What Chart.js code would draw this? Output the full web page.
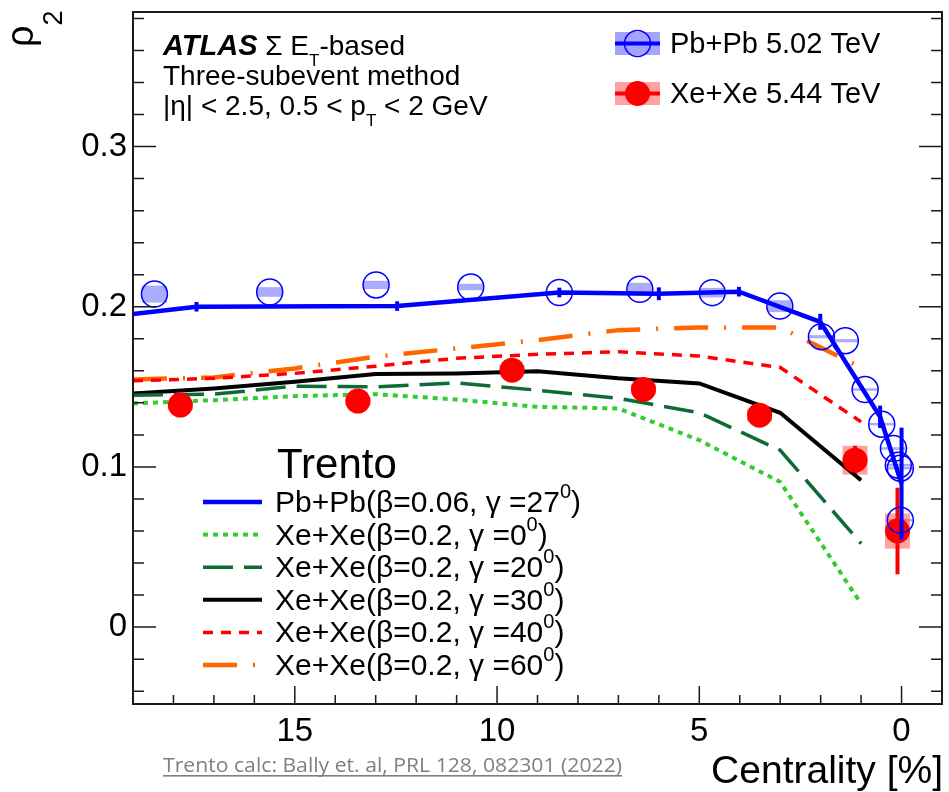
<!DOCTYPE html>
<html>
<head>
<meta charset="utf-8">
<title>rho2 vs centrality</title>
<script src="https://cdn.jsdelivr.net/npm/chart.js@4.4.1/dist/chart.umd.min.js"></script>
<style>
  html, body { margin: 0; padding: 0; background: #fff; overflow: hidden; }
  canvas { display: block; }
</style>
</head>
<body>
<canvas id="rhoChart" width="949" height="792"></canvas>
<script>
const FONT = "'Liberation Sans', Arial, Helvetica, sans-serif";

// ATLAS Pb+Pb 5.02 TeV (open circles), syst half-widths
const pbCent = [18.47, 15.62, 12.99, 10.65, 8.46, 6.47, 4.68, 3.01, 1.98, 1.39, 0.90, 0.49, 0.20, 0.08, 0.03, 0.03];
const pbRho  = [0.2079, 0.2092, 0.2136, 0.2123, 0.2089, 0.2109, 0.2088, 0.2004, 0.1813, 0.1788, 0.1483, 0.1267, 0.1115, 0.1011, 0.0992, 0.0667];
const pbSys  = [0.0053, 0.0030, 0.0026, 0.0020, 0.0010, 0.0040, 0.0030, 0.0037, 0.0010, 0.0010, 0.0008, 0.0008, 0.0008, 0.0008, 0.0008, 0.0008];

// ATLAS Xe+Xe 5.44 TeV (filled circles)
const xeCent = [17.83, 13.44, 9.63, 6.38, 3.51, 1.15, 0.10];
const xeRho  = [0.1386, 0.1411, 0.1604, 0.1484, 0.1323, 0.1042, 0.0600];
const xeStat = [0.002, 0.002, 0.002, 0.002, 0.003, 0.009, 0.027];
const xeSys  = [0.003, 0.003, 0.003, 0.003, 0.004, 0.009, 0.011];

// Trento Pb+Pb (beta=0.06, gamma=27)
const trPbCent = [19, 17.43, 12.47, 8.46, 6.0, 4.02, 2.01, 0.53, 0.0];
const trPbRho  = [0.1955, 0.2000, 0.2004, 0.2089, 0.2081, 0.2094, 0.1906, 0.1313, 0.0895];
const trPbErr  = [0, 0.003, 0.003, 0.003, 0.004, 0.003, 0.005, 0.007, 0.035];

// Trento Xe+Xe (beta=0.2) for several gamma values
const trXeCent  = [19, 17, 15, 13, 11, 9, 7, 5, 3, 1];
const xeGamma0  = [0.1396, 0.1417, 0.1442, 0.1454, 0.1421, 0.1375, 0.1365, 0.1167, 0.0906, 0.0146];
const xeGamma20 = [0.1448, 0.1454, 0.1504, 0.1500, 0.1525, 0.1479, 0.1428, 0.1338, 0.1104, 0.0521];
const xeGamma30 = [0.1459, 0.1490, 0.1531, 0.1580, 0.1584, 0.1598, 0.1553, 0.1521, 0.1338, 0.0917];
const xeGamma40 = [0.1538, 0.1553, 0.1584, 0.1629, 0.1678, 0.1703, 0.1719, 0.1692, 0.1621, 0.1281];
const xeGamma60 = [0.1546, 0.1559, 0.1615, 0.1688, 0.1740, 0.1792, 0.1854, 0.1871, 0.1871, 0.1621];

const xTicks = [0, 5, 10, 15];
const yTicks = [0, 0.1, 0.2, 0.3];

const trentoLabels = [
  ['Pb+Pb(β=0.06, γ =27', ')'],
  ['Xe+Xe(β=0.2, γ =0', ')'],
  ['Xe+Xe(β=0.2, γ =20', ')'],
  ['Xe+Xe(β=0.2, γ =30', ')'],
  ['Xe+Xe(β=0.2, γ =40', ')'],
  ['Xe+Xe(β=0.2, γ =60', ')']
];

function pts(xs, ys) {
  return xs.map((x, i) => ({ x: x, y: ys[i] }));
}

function curve(label, ys, color, width, dash) {
  return {
    label: label,
    data: pts(trXeCent, ys),
    borderColor: color,
    borderWidth: width,
    borderDash: dash,
    pointRadius: 0,
    tension: 0,
    fill: false
  };
}

// draws a row of text pieces: [text, font, baseline shift]
function drawRich(ctx, x, y, runs) {
  let cx = x;
  runs.forEach(r => {
    ctx.font = r[1];
    ctx.fillText(r[0], cx, y + (r[2] || 0));
    cx += ctx.measureText(r[0]).width;
  });
  return cx;
}

// light bands for systematics, red stat bars
const errorBoxes = {
  id: 'errorBoxes',
  beforeDatasetsDraw(chart) {
    const { ctx, chartArea: a, scales: { x, y } } = chart;
    ctx.save();
    ctx.beginPath();
    ctx.rect(a.left, a.top, a.right - a.left, a.bottom - a.top);
    ctx.clip();
    ctx.fillStyle = 'rgba(90, 90, 255, 0.5)';
    pbCent.forEach((c, i) => {
      const px = x.getPixelForValue(c);
      const t = y.getPixelForValue(pbRho[i] + pbSys[i]);
      const b = y.getPixelForValue(pbRho[i] - pbSys[i]);
      ctx.fillRect(px - 12.5, t, 25, b - t);
    });
    ctx.fillStyle = 'rgba(255, 70, 70, 0.5)';
    xeCent.forEach((c, i) => {
      const px = x.getPixelForValue(c);
      const t = y.getPixelForValue(xeRho[i] + xeSys[i]);
      const b = y.getPixelForValue(xeRho[i] - xeSys[i]);
      ctx.fillRect(px - 12.5, t, 25, b - t);
    });
    ctx.strokeStyle = '#ff0000';
    ctx.lineWidth = 4;
    xeCent.forEach((c, i) => {
      const px = x.getPixelForValue(c);
      ctx.beginPath();
      ctx.moveTo(px, y.getPixelForValue(xeRho[i] + xeStat[i]));
      ctx.lineTo(px, y.getPixelForValue(xeRho[i] - xeStat[i]));
      ctx.stroke();
    });
    ctx.restore();
  },
  afterDatasetsDraw(chart) {
    // uncertainty ticks on the Trento Pb+Pb curve
    const { ctx, scales: { x, y } } = chart;
    ctx.save();
    ctx.strokeStyle = '#0000ff';
    ctx.lineWidth = 4;
    trPbCent.forEach((c, i) => {
      if (!trPbErr[i]) return;
      const px = x.getPixelForValue(c);
      ctx.beginPath();
      ctx.moveTo(px, y.getPixelForValue(trPbRho[i] + trPbErr[i]));
      ctx.lineTo(px, y.getPixelForValue(trPbRho[i] - trPbErr[i]));
      ctx.stroke();
    });
    ctx.restore();
  }
};

// frame with inward ticks, titles, legends, labels
const decorations = {
  id: 'decorations',
  afterDraw(chart) {
    const { ctx, chartArea: a, scales: { x, y } } = chart;
    const ds = chart.data.datasets;
    ctx.save();

    ctx.strokeStyle = '#1a1a1a';
    ctx.lineWidth = 2;
    ctx.strokeRect(a.left, a.top, a.right - a.left, a.bottom - a.top);

    ctx.lineWidth = 1.5;
    ctx.beginPath();
    for (let v = -1; v <= 19; v++) {
      const px = x.getPixelForValue(v);
      const len = v % 5 === 0 ? 18 : 9;
      ctx.moveTo(px, a.bottom);
      ctx.lineTo(px, a.bottom - len);
    }
    for (let k = -2; k <= 19; k++) {
      const py = y.getPixelForValue(k * 0.02);
      const len = k % 5 === 0 ? 23 : 11;
      ctx.moveTo(a.left, py);
      ctx.lineTo(a.left + len, py);
      ctx.moveTo(a.right, py);
      ctx.lineTo(a.right - len, py);
    }
    ctx.stroke();

    ctx.fillStyle = '#000';
    ctx.textAlign = 'left';
    ctx.textBaseline = 'alphabetic';

    // axis titles
    ctx.font = '39px ' + FONT;
    ctx.textAlign = 'right';
    ctx.fillText('Centrality [%]', 943, 783);
    ctx.textAlign = 'left';
    ctx.save();
    ctx.translate(33, 47);
    ctx.rotate(-Math.PI / 2);
    drawRich(ctx, 0, 0, [['ρ', '38px ' + FONT], ['2', '27px ' + FONT, 29]]);
    ctx.restore();

    // experiment labels
    const f28 = '28px ' + FONT;
    drawRich(ctx, 163, 55, [
      ['ATLAS', 'italic bold 29px ' + FONT],
      [' Σ E', f28],
      ['T', '17px ' + FONT, 11],
      ['-based', f28]
    ]);
    drawRich(ctx, 163, 85, [['Three-subevent method', f28]]);
    drawRich(ctx, 163, 115, [
      ['|η| < 2.5, 0.5 < p', f28],
      ['T', '17px ' + FONT, 11],
      [' < 2 GeV', f28]
    ]);

    // data legend
    const rows = [
      { y: 43.5, fill: 'rgba(90, 90, 255, 0.55)', line: '#0000ff', open: true, text: 'Pb+Pb 5.02 TeV' },
      { y: 93.5, fill: 'rgba(255, 70, 70, 0.5)', line: '#ff0000', open: false, text: 'Xe+Xe 5.44 TeV' }
    ];
    rows.forEach(r => {
      ctx.fillStyle = r.fill;
      ctx.fillRect(615, r.y - 11.5, 45, 23);
      ctx.strokeStyle = r.line;
      ctx.lineWidth = 4;
      ctx.beginPath();
      ctx.moveTo(615, r.y);
      ctx.lineTo(660, r.y);
      ctx.stroke();
      ctx.beginPath();
      ctx.arc(637.5, r.y, r.open ? 13 : 12.5, 0, Math.PI * 2);
      if (r.open) {
        ctx.lineWidth = 1.5;
        ctx.stroke();
      } else {
        ctx.fillStyle = r.line;
        ctx.fill();
      }
      ctx.fillStyle = '#000';
      ctx.font = '29px ' + FONT;
      ctx.fillText(r.text, 670, r.y + 9.5);
    });

    // model legend
    ctx.font = '42px ' + FONT;
    ctx.fillText('Trento', 277, 478);
    const curves = ds.slice(2);
    curves.forEach((c, i) => {
      const ly = 502 + i * 32.6;
      ctx.strokeStyle = c.borderColor;
      ctx.lineWidth = c.borderWidth;
      ctx.setLineDash(c.borderDash || []);
      ctx.beginPath();
      ctx.moveTo(203, ly);
      ctx.lineTo(262, ly);
      ctx.stroke();
      ctx.setLineDash([]);
      ctx.fillStyle = '#000';
      const lab = trentoLabels[i];
      drawRich(ctx, 275, ly + 10, [
        [lab[0], '30px ' + FONT],
        ['0', '20px ' + FONT, -14],
        [lab[1], '30px ' + FONT]
      ]);
    });

    // reference note, underlined
    const note = 'Trento calc: Bally et. al, PRL 128, 082301 (2022)';
    ctx.font = "20px 'Open Sans', " + FONT;
    const w = ctx.measureText(note).width;
    const sx = 459 / w;
    ctx.save();
    ctx.translate(163, 772);
    ctx.scale(sx, 1);
    ctx.fillStyle = '#808080';
    ctx.fillText(note, 0, 0);
    ctx.restore();
    ctx.fillStyle = '#808080';
    ctx.fillRect(163, 775, 459, 1.6);

    ctx.restore();
  }
};

new Chart(document.getElementById('rhoChart'), {
  type: 'line',
  data: {
    datasets: [
      {
        label: 'Pb+Pb 5.02 TeV',
        data: pts(pbCent, pbRho),
        showLine: false,
        pointRadius: 13,
        pointBackgroundColor: 'rgba(0, 0, 0, 0)',
        pointBorderColor: '#0000ff',
        pointBorderWidth: 1.5
      },
      {
        label: 'Xe+Xe 5.44 TeV',
        data: pts(xeCent, xeRho),
        showLine: false,
        pointRadius: 12.5,
        pointBackgroundColor: '#ff0000',
        pointBorderColor: '#ff0000',
        pointBorderWidth: 0
      },
      {
        label: 'Trento Pb+Pb',
        data: pts(trPbCent, trPbRho),
        borderColor: '#0000ff',
        borderWidth: 4.5,
        pointRadius: 0,
        tension: 0,
        fill: false
      },
      curve('Trento Xe+Xe gamma=0', xeGamma0, '#33cc33', 4, [5, 5]),
      curve('Trento Xe+Xe gamma=20', xeGamma20, '#0f6b35', 3.5, [30, 11]),
      curve('Trento Xe+Xe gamma=30', xeGamma30, '#000000', 4, []),
      curve('Trento Xe+Xe gamma=40', xeGamma40, '#ff0000', 3.5, [10, 8]),
      curve('Trento Xe+Xe gamma=60', xeGamma60, '#ff6600', 4.5, [34, 16, 2, 16])
    ]
  },
  options: {
    responsive: false,
    animation: false,
    devicePixelRatio: 1,
    layout: { autoPadding: false, padding: { top: 12, right: 7, left: 0, bottom: 0 } },
    plugins: {
      legend: { display: false },
      tooltip: { enabled: false }
    },
    scales: {
      x: {
        type: 'linear',
        reverse: true,
        min: -1,
        max: 19,
        grid: { display: false, drawTicks: false },
        border: { display: false },
        ticks: {
          maxRotation: 0,
          padding: 8,
          color: '#000',
          font: { family: FONT, size: 33 }
        },
        afterBuildTicks: s => { s.ticks = xTicks.map(v => ({ value: v })); },
        afterFit: s => {
          s.height = 88;
          s.paddingLeft = 0;
          s.paddingRight = 0;
        }
      },
      y: {
        type: 'linear',
        min: -0.048,
        max: 0.384,
        grid: { display: false, drawTicks: false },
        border: { display: false },
        ticks: {
          padding: 6,
          color: '#000',
          font: { family: FONT, size: 33 },
          callback: v => Math.abs(v) < 1e-9 ? '0' : v.toFixed(1)
        },
        afterBuildTicks: s => { s.ticks = yTicks.map(v => ({ value: v })); },
        afterFit: s => {
          s.width = 133;
          s.paddingTop = 0;
          s.paddingBottom = 0;
        }
      }
    }
  },
  plugins: [errorBoxes, decorations]
});
</script>
</body>
</html>
